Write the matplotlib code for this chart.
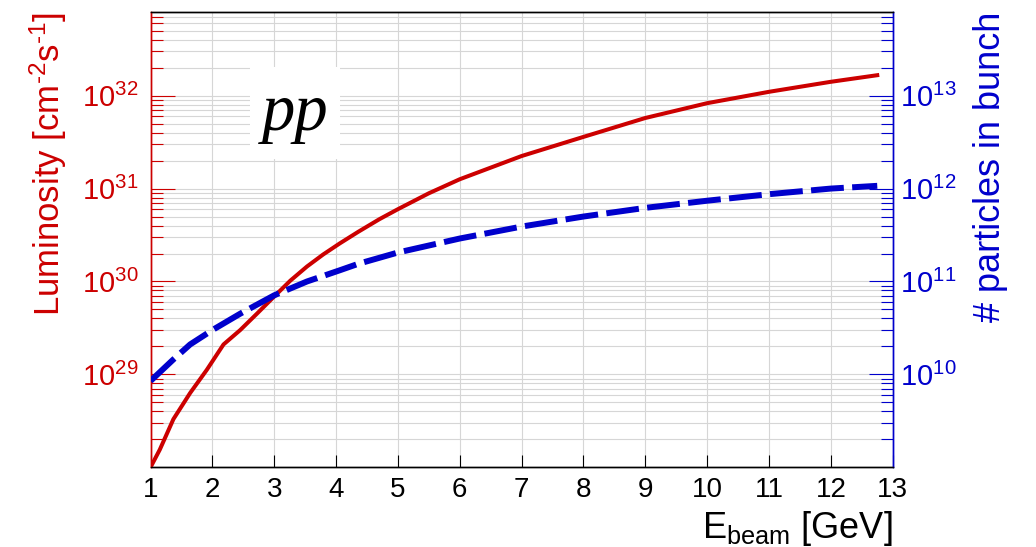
import numpy as np
import matplotlib
matplotlib.use("Agg")
import matplotlib.pyplot as plt
from matplotlib.ticker import LogLocator, FixedLocator, NullFormatter, LogFormatterMathtext
from matplotlib.patches import Rectangle

plt.rcParams['font.family'] = ['Liberation Sans', 'DejaVu Sans']
plt.rcParams['mathtext.fontset'] = 'custom'
plt.rcParams['mathtext.rm'] = 'Liberation Sans'
plt.rcParams['mathtext.it'] = 'Liberation Sans:italic'
plt.rcParams['mathtext.bf'] = 'Liberation Sans:bold'

# luminosity (red, left axis)
e_lum = [1.0, 1.15, 1.37, 1.64, 1.91, 2.18, 2.45, 2.72, 3.0, 3.26, 3.53, 3.79,
         4.06, 4.36, 4.7, 5.0, 5.5, 6.0, 7.0, 8.0, 9.0, 10.0, 11.0, 12.0, 12.75]
lum = [1.0e28, 1.55e28, 3.3e28, 6.3e28, 1.12e29, 2.1e29, 3.0e29, 4.5e29,
       6.9e29, 1.02e30, 1.45e30, 1.95e30, 2.57e30, 3.43e30, 4.68e30, 6.0e30,
       8.9e30, 1.26e31, 2.24e31, 3.6e31, 5.75e31, 8.3e31, 1.1e32, 1.41e32,
       1.66e32]

# particles in bunch (blue, right axis)
e_np = [1.0, 1.37, 1.64, 2.0, 2.45, 3.0, 3.53, 4.06, 4.36, 5.0, 6.0, 7.0, 8.0,
        9.0, 10.0, 11.0, 12.0, 12.75]
npart = [8.5e9, 1.45e10, 2.1e10, 3.0e10, 4.5e10, 7.1e10, 1.0e11, 1.32e11,
         1.55e11, 2.05e11, 2.9e11, 3.9e11, 5.0e11, 6.2e11, 7.4e11, 8.7e11,
         1.0e12, 1.07e12]

xticks = list(range(1, 14))
lum_ticks = [1e29, 1e30, 1e31, 1e32]
np_ticks = [1e10, 1e11, 1e12, 1e13]

red = '#cc0000'
blue = '#0000cc'

fig = plt.figure(figsize=(10.36, 5.47), dpi=100)
ax = fig.add_axes([0.1453, 0.1457, 0.7164, 0.8323])
ax2 = ax.twinx()

ax.set_xlim(1, 13)
ax.set_yscale('log')
ax.set_ylim(1e28, 10 ** 32.9)
ax2.set_yscale('log')
ax2.set_ylim(1e9, 10 ** 13.9)

ax.set_xticks(xticks)
ax.set_xticklabels([str(t) for t in xticks], fontsize=20)

for a, tk in ((ax, lum_ticks), (ax2, np_ticks)):
    a.yaxis.set_major_locator(FixedLocator(tk))
    a.yaxis.set_minor_locator(LogLocator(base=10, subs=np.arange(2, 10), numticks=20))
    a.yaxis.set_minor_formatter(NullFormatter())
    a.yaxis.set_major_formatter(LogFormatterMathtext())

ax.grid(True, which='both', axis='y', color='#d6d6d6', lw=0.8)
ax.grid(True, which='major', axis='x', color='#d6d6d6', lw=0.8)
ax.set_axisbelow(True)

# white box behind the label
ax.add_patch(Rectangle((0.134, 0.677), 0.121, 0.202, transform=ax.transAxes,
                       facecolor='white', edgecolor='none', zorder=1.5))
ax.text(0.1947, 0.741, 'pp', transform=ax.transAxes, ha='center', va='baseline',
        fontsize=48, family='Liberation Serif', style='italic', color='black',
        zorder=3)

ax.plot(e_lum, lum, color=red, lw=2.9, zorder=4)
ax2.plot(e_np, npart, color=blue, lw=4.3, linestyle=(0, (5.5, 1.4)), zorder=4)

ax.tick_params(axis='x', which='both', direction='in', length=8.6, width=0.8,
               colors='black', top=False, pad=7)
ax.tick_params(axis='y', which='major', direction='in', length=17, width=0.8,
               colors=red, labelsize=21, pad=9)
ax.tick_params(axis='y', which='minor', direction='in', length=8.6, width=0.8,
               colors=red)
ax2.tick_params(axis='y', which='major', direction='in', length=17, width=0.8,
                colors=blue, labelsize=21, pad=5)
ax2.tick_params(axis='y', which='minor', direction='in', length=9, width=0.8,
                colors=blue)

for a in (ax, ax2):
    a.spines['left'].set_color(red)
    a.spines['right'].set_color(blue)
    a.spines['top'].set_color('black')
    a.spines['bottom'].set_color('black')
    for s in a.spines.values():
        s.set_linewidth(1.0)

ax.set_ylabel('Luminosity [cm$^{\u20102}$s$^{\u20101}$]', color=red, fontsize=25,
              loc='top', labelpad=9)
ax2.set_ylabel('# particles in bunch', color=blue, fontsize=26, loc='top',
               labelpad=12)
ax.set_xlabel(r'E$_{\mathrm{beam}}$ [GeV]', fontsize=26, loc='right', labelpad=4)

fig.savefig('out.png', dpi=100)
